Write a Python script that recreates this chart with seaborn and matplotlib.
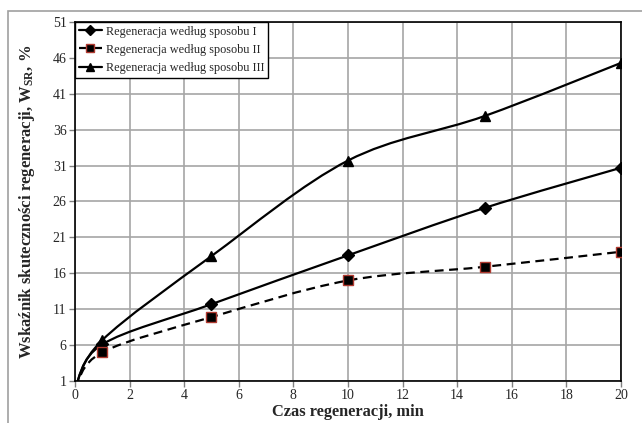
import matplotlib
matplotlib.use("Agg")
import matplotlib.pyplot as plt
from matplotlib.path import Path
from matplotlib.patches import PathPatch, Rectangle
from matplotlib.lines import Line2D
import numpy as np
import pandas as pd
import seaborn as sns

# data
czas = [0, 1, 5, 10, 15, 20]
sposob_1 = [0, 6.1, 11.7, 18.5, 25.1, 30.7]
sposob_2 = [0, 5.0, 9.9, 15.0, 16.9, 19.0]
sposob_3 = [0, 6.7, 18.4, 31.7, 37.9, 45.3]
labels = ["Regeneracja według sposobu I", "Regeneracja według sposobu II",
          "Regeneracja według sposobu III"]
x_ticks = list(range(0, 21, 2))
y_ticks = list(range(1, 52, 5))

sns.set_theme(style="white")
plt.rcParams["font.family"] = ["Liberation Serif", "DejaVu Serif"]
plt.rcParams["mathtext.fontset"] = "custom"
plt.rcParams["mathtext.rm"] = "Liberation Serif"
plt.rcParams["mathtext.bf"] = "Liberation Serif:bold"


def smooth_path(xs, ys):
    """Excel-like smoothed line: Catmull-Rom as cubic Bezier segments."""
    pts = np.column_stack([xs, ys]).astype(float)
    verts = [pts[0]]
    codes = [Path.MOVETO]
    n = len(pts)
    for i in range(n - 1):
        p0 = pts[max(i - 1, 0)]
        p1 = pts[i]
        p2 = pts[i + 1]
        p3 = pts[min(i + 2, n - 1)]
        c1 = p1 + (p2 - p0) / 6.0
        c2 = p2 - (p3 - p1) / 6.0
        verts += [c1, c2, p2]
        codes += [Path.CURVE4] * 3
    return Path(verts, codes)


df = pd.DataFrame({
    "czas": czas * 3,
    "wartosc": sposob_1 + sposob_2 + sposob_3,
    "seria": [labels[0]] * 6 + [labels[1]] * 6 + [labels[2]] * 6,
})

fig = plt.figure(figsize=(6.42, 4.23), dpi=100)
ax = fig.add_axes([0.1168, 0.0993, 0.8505, 0.8487])

# outer chart-area border
fig.patches.append(Rectangle((8 / 642, -0.1), 1.2, 1 - 11 / 423 + 0.1,
                             transform=fig.transFigure, fill=False,
                             edgecolor="#a0a0a0", linewidth=1.2))

styles = [
    dict(marker="D", ms=6, mfc="black", mec="black", ls="-"),
    dict(marker="s", ms=6.5, mfc="black", mec="#b03a30", ls=(0, (4, 2.5))),
    dict(marker="^", ms=7, mfc="black", mec="black", ls="-"),
]

for lab, st in zip(labels, styles):
    sub = df[df["seria"] == lab]
    patch = PathPatch(smooth_path(sub["czas"], sub["wartosc"]), fill=False,
                      edgecolor="black", linewidth=1.6, linestyle=st["ls"],
                      zorder=3)
    ax.add_patch(patch)
    sns.lineplot(data=sub, x="czas", y="wartosc", ax=ax, linestyle="",
                 marker=st["marker"], markersize=st["ms"],
                 markerfacecolor=st["mfc"], markeredgecolor=st["mec"],
                 markeredgewidth=1.0, color="black", zorder=4, legend=False)

ax.set_xlim(0, 20)
ax.set_ylim(1, 51)
ax.set_xticks(x_ticks)
ax.set_yticks(y_ticks)
ax.grid(True, color="#a6a6a6", linewidth=1.2)
ax.set_axisbelow(True)
for s in ax.spines.values():
    s.set_color("black")
    s.set_linewidth(1.2)
ax.tick_params(axis="both", labelsize=10, length=4, width=1,
               color="#808080", direction="out", bottom=True, left=True,
               pad=2)

ax.set_xlabel("Czas regeneracji, min", fontsize=11.8, fontweight="bold",
              labelpad=1)
ax.set_ylabel(r"Wskaźnik skuteczności regeneracji, $\mathbf{W_{SR}}$, %",
              fontsize=12, fontweight="bold", labelpad=11)

handles = [Line2D([], [], color="black", lw=1.6, linestyle=st["ls"],
                  marker=st["marker"], markersize=st["ms"] - 1,
                  markerfacecolor=st["mfc"], markeredgecolor=st["mec"])
           for st in styles]
leg = ax.legend(handles, labels, loc="upper left", fontsize=8.8,
                frameon=True, fancybox=False, borderaxespad=0,
                handlelength=1.9, handletextpad=0.3, labelspacing=0.5,
                borderpad=0.3)
leg.get_frame().set_edgecolor("black")
leg.get_frame().set_linewidth(1.0)
leg.get_frame().set_alpha(1)

fig.savefig("out.png", dpi=100)
